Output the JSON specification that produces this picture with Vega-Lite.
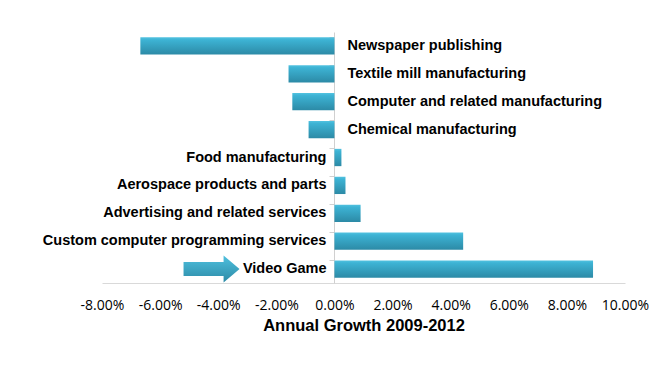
{
  "$schema": "https://vega.github.io/schema/vega-lite/v6.json",
  "autosize": {"type": "none"},
  "width": 523,
  "height": 251,
  "padding": {"left": 102, "top": 32, "right": 45, "bottom": 94},
  "background": "white",
  "config": {"view": {"stroke": null}, "font": "Liberation Sans"},
  "datasets": {
    "bars": [
      {"industry": "Newspaper publishing", "growth": -0.0668},
      {"industry": "Textile mill manufacturing", "growth": -0.0158},
      {"industry": "Computer and related manufacturing", "growth": -0.0145},
      {"industry": "Chemical manufacturing", "growth": -0.0089},
      {"industry": "Food manufacturing", "growth": 0.0024},
      {"industry": "Aerospace products and parts", "growth": 0.0038},
      {"industry": "Advertising and related services", "growth": 0.009},
      {"industry": "Custom computer programming services", "growth": 0.0443},
      {"industry": "Video Game", "growth": 0.089}
    ],
    "arrow": [
      {"industry": "Video Game", "growth": -0.0423}
    ]
  },
  "encoding": {
    "y": {
      "field": "industry",
      "type": "nominal",
      "sort": null,
      "scale": {
        "domain": ["Newspaper publishing", "Textile mill manufacturing", "Computer and related manufacturing", "Chemical manufacturing", "Food manufacturing", "Aerospace products and parts", "Advertising and related services", "Custom computer programming services", "Video Game"],
        "paddingInner": 0.38,
        "paddingOuter": 0.19
      },
      "axis": {
        "title": null,
        "labels": false,
        "offset": -232,
        "domainColor": "#d0d0d0",
        "tickColor": "#d0d0d0",
        "tickSize": 5,
        "bandPosition": 0
      }
    }
  },
  "layer": [
    {
      "data": {"name": "bars"},
      "mark": {
        "type": "bar",
        "color": {
          "gradient": "linear",
          "x1": 0, "y1": 0, "x2": 0, "y2": 1,
          "stops": [
            {"offset": 0, "color": "#52c2e0"},
            {"offset": 0.15, "color": "#3db3d4"},
            {"offset": 1, "color": "#2c8aa6"}
          ]
        }
      },
      "encoding": {
        "x": {
          "field": "growth",
          "type": "quantitative",
          "scale": {"domain": [-0.08, 0.1], "nice": false, "zero": false},
          "axis": {
            "title": "Annual Growth 2009-2012",
            "titleFontSize": 16.5,
            "titleFontWeight": "bold",
            "titleColor": "black",
            "titlePadding": 5,
            "labelExpr": "replace(format(datum.value, '.2%'), '\u2212', '-')",
            "values": [-0.08, -0.06, -0.04, -0.02, 0, 0.02, 0.04, 0.06, 0.08, 0.1],
            "labelFont": "Open Sans",
            "labelFontSize": 14,
            "labelColor": "black",
            "labelPadding": 15,
            "ticks": false,
            "grid": false,
            "domainColor": "#d9d9d9",
            "labelFlush": false,
            "labelOverlap": false
          }
        }
      }
    },
    {
      "data": {"name": "bars"},
      "transform": [{"filter": "datum.growth < 0"}],
      "mark": {"type": "text", "align": "left", "baseline": "middle", "dx": 13, "fontWeight": "bold", "fontSize": 14.5, "color": "black"},
      "encoding": {
        "x": {"datum": 0, "type": "quantitative"},
        "text": {"field": "industry"}
      }
    },
    {
      "data": {"name": "bars"},
      "transform": [{"filter": "datum.growth >= 0"}],
      "mark": {"type": "text", "align": "right", "baseline": "middle", "dx": -8, "fontWeight": "bold", "fontSize": 14.5, "color": "black"},
      "encoding": {
        "x": {"datum": 0, "type": "quantitative"},
        "text": {"field": "industry"}
      }
    },
    {
      "data": {"name": "arrow"},
      "mark": {
        "type": "point",
        "filled": true,
        "opacity": 1,
        "size": 3136,
        "shape": "M -1 -0.25 L 0.43 -0.25 L 0.43 -0.48 L 1 0 L 0.43 0.48 L 0.43 0.25 L -1 0.25 Z",
        "fill": {
          "gradient": "linear",
          "x1": 0, "y1": 0, "x2": 0, "y2": 1,
          "stops": [
            {"offset": 0, "color": "#4fc0de"},
            {"offset": 1, "color": "#2c8aa6"}
          ]
        }
      },
      "encoding": {
        "x": {"field": "growth", "type": "quantitative"}
      }
    }
  ]
}
